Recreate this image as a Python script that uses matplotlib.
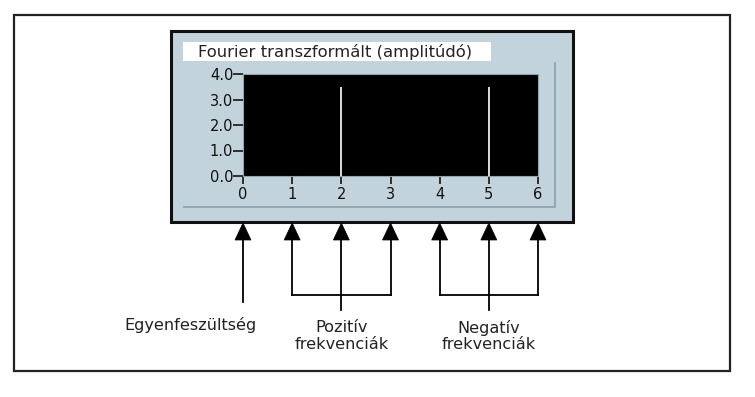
import numpy as np
import matplotlib
matplotlib.use("Agg")
from matplotlib import pyplot as plt
from matplotlib import transforms
from matplotlib.patches import Rectangle, Polygon

# spectrum data
freq = [0, 1, 2, 3, 4, 5, 6]
amp = [0, 0, 3.5, 0, 0, 3.5, 0]
yticks = [0.0, 1.0, 2.0, 3.0, 4.0]
title = "Fourier transzformált (amplitúdó)"

# arrow groups and their labels
dc_bins = [0]
pos_bins = [1, 2, 3]
neg_bins = [4, 5, 6]
dc_label = "Egyenfeszültség"
pos_label = "Pozitív\nfrekvenciák"
neg_label = "Negatív\nfrekvenciák"

W, H = 755, 397
fig = plt.figure(figsize=(W / 100, H / 100), dpi=100)
fig.patch.set_facecolor("white")

# pixel-coordinate background axes
bg = fig.add_axes([0, 0, 1, 1])
bg.set_xlim(0, W)
bg.set_ylim(H, 0)
bg.axis("off")

panel_col = "#c3d3db"
edge_col = "#8ea4ae"

bg.add_patch(Rectangle((14, 15), 716, 356, fill=False, ec="#222222", lw=1.6))
bg.add_patch(Rectangle((171, 31), 402, 191, fc=panel_col, ec="#111111", lw=2.2))
bg.plot([184, 555, 555], [207, 207, 63], color=edge_col, lw=1.3)
bg.add_patch(Rectangle((183, 42), 308, 19, fc="white", ec="none"))
bg.text(198, 51.5, title, fontsize=11.8, va="center", ha="left", color="#222222")

# the spectrum plot
ax = fig.add_axes([243 / W, 1 - 176 / H, (538 - 243) / W, (176 - 74) / H])
ax.set_facecolor("black")
ax.vlines(freq, 0, amp, color="#dddddd", lw=1.4)
ax.set_xlim(0, 6)
ax.set_ylim(0, 4)
ax.set_xticks(freq)
ax.set_yticks(yticks)
ax.set_yticklabels(["%.1f" % v for v in yticks])
for s in ax.spines.values():
    s.set_color(edge_col)
    s.set_linewidth(0.8)
ax.tick_params(axis="y", length=7, width=1.3, pad=0, color="#222222",
               labelsize=10.5, labelcolor="#111111")
ax.tick_params(axis="x", length=6, width=1.3, pad=2, color="#222222",
               labelsize=10.5, labelcolor="#111111")

# arrows below the panel, x from data coords, y in pixels
tr = transforms.blended_transform_factory(ax.transData, bg.transData)
unit = (538 - 243) / 6.0
hw = 8 / unit
tip, base = 223, 240
lw_arr = 1.3


def arrow(x, y_end):
    bg.add_patch(Polygon([[x, tip], [x - hw, base], [x + hw, base]],
                         closed=True, fc="black", ec="black", lw=0.5,
                         transform=tr, clip_on=False))
    bg.plot([x, x], [base, y_end], color="black", lw=lw_arr, transform=tr,
            clip_on=False)


for b in dc_bins:
    arrow(b, 302)

for grp in (pos_bins, neg_bins):
    arrow(grp[0], 295)
    arrow(grp[-1], 295)
    arrow(grp[1], 310)
    bg.plot([grp[0], grp[-1]], [295, 295], color="black", lw=lw_arr,
            transform=tr, clip_on=False)

bg.text(190, 325, dc_label, fontsize=11.6, ha="center", va="center",
        color="#222222")
bg.text(pos_bins[1], 336, pos_label, fontsize=11.6, ha="center",
        va="center", linespacing=1.1, color="#222222", transform=tr)
bg.text(neg_bins[1], 336, neg_label, fontsize=11.6, ha="center",
        va="center", linespacing=1.1, color="#222222", transform=tr)

fig.savefig("out.png", dpi=100, facecolor="white")
